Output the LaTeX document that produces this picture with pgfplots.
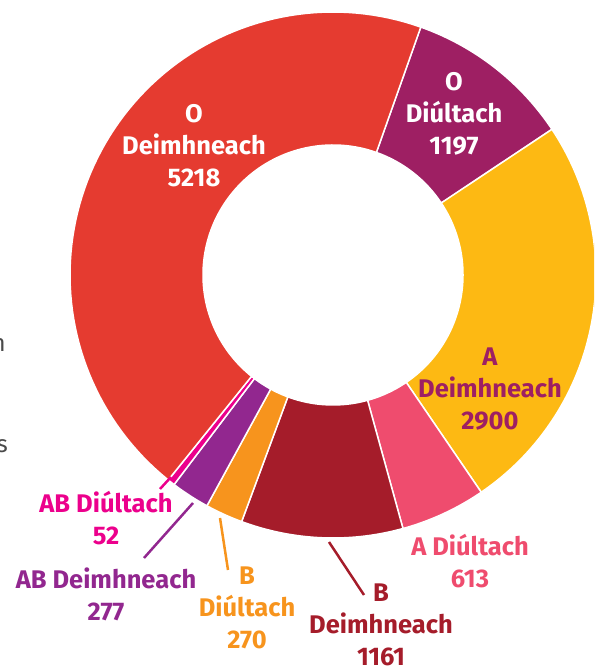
\documentclass[border=0pt]{standalone}
\usepackage{pgfplots}
\pgfplotsset{compat=1.18}
\usepackage{pgfplotstable}
\usepackage{fontspec}
\setmainfont{Fira Sans}
\definecolor{cODe}{HTML}{E53B30}
\definecolor{cODi}{HTML}{9E1F63}
\definecolor{cADe}{HTML}{FDB913}
\definecolor{cADi}{HTML}{EF4C6E}
\definecolor{cBDe}{HTML}{A51C2A}
\definecolor{cBDi}{HTML}{F7941D}
\definecolor{cABDe}{HTML}{92278F}
\definecolor{cABDi}{HTML}{EC008C}
\definecolor{fragtext}{HTML}{4A4A4A}
\pgfplotstableread{
label value color
ODiultach 1197 cODi
ADeimhneach 2900 cADe
ADiultach 613 cADi
BDeimhneach 1161 cBDe
BDiultach 270 cBDi
ABDeimhneach 277 cABDe
ABDiultach 52 cABDi
ODeimhneach 5218 cODe
}\bloodtable
\newcommand\lbl{\fontsize{25.5}{32}\selectfont\bfseries}
\begin{document}
\begin{tikzpicture}
\begin{axis}[x=1pt,y=1pt,xmin=0,xmax=594,ymin=0,ymax=668,hide axis]
\pgfmathsetmacro{\total}{0}
\pgfplotsforeachungrouped \i in {0,...,7}{%
  \pgfplotstablegetelem{\i}{value}\of\bloodtable
  \pgfmathsetmacro{\total}{\total+\pgfplotsretval}%
}
\def\cum{0}
\pgfplotsforeachungrouped \i in {0,...,7}{%
  \pgfplotstablegetelem{\i}{value}\of\bloodtable \let\val\pgfplotsretval
  \pgfplotstablegetelem{\i}{color}\of\bloodtable \let\col\pgfplotsretval
  \pgfmathsetmacro{\a}{70.5-\cum/\total*360}%
  \pgfmathsetmacro{\cumnew}{\cum+\val}%
  \pgfmathsetmacro{\b}{70.5-\cumnew/\total*360}%
  \pgfmathsetmacro{\ax}{333+130*cos(\a)}%
  \pgfmathsetmacro{\ay}{393+130*sin(\a)}%
  \edef\cmd{\noexpand\addplot[fill=\col,draw=white,line width=1.5pt,line join=round,domain=\b:\a,samples=90,variable=\noexpand\t] ({333+263*cos(\noexpand\t)},{393+263*sin(\noexpand\t)}) -- (axis cs:\ax,\ay) arc[start angle=\a,end angle=\b,radius=130pt] -- cycle;}%
  \cmd
  \let\cum\cumnew
}
% labels
\node[align=center,text=white,font=\lbl] at (axis cs:194,522) {O\\Deimhneach\\5218};
\node[align=center,text=white,font=\lbl] at (axis cs:454,554) {O\\Diúltach\\1197};
\node[align=center,text=cODi,font=\lbl] at (axis cs:490,279) {A\\Deimhneach\\2900};
\node[align=center,text=cADi,font=\lbl] at (axis cs:470,107) {A Diúltach\\613};
\node[align=center,text=cBDe,font=\lbl] at (axis cs:381,43) {B\\Deimhneach\\1161};
\node[align=center,text=cBDi,font=\lbl] at (axis cs:247,60) {B\\Diúltach\\270};
\node[align=center,text=cABDe,font=\lbl] at (axis cs:106,74) {AB Deimhneach\\277};
\node[align=center,text=cABDi,font=\lbl] at (axis cs:106,150) {AB Diúltach\\52};
% leader lines
\draw[cABDi,line width=2.5pt] (axis cs:171,191) -- (axis cs:160,179);
\draw[cABDe,line width=2.5pt] (axis cs:193,165) -- (axis cs:144,110);
\draw[cBDi,line width=2.5pt] (axis cs:220,150) -- (axis cs:228,98);
\draw[cBDe,line width=2.5pt] (axis cs:329,126) -- (axis cs:364,73);
% cut-off text fragments at the left edge
\node[anchor=base east,inner sep=0pt,text=fragtext,font=\fontsize{24}{28}\selectfont] at (axis cs:6,316) {n};
\node[anchor=base east,inner sep=0pt,text=fragtext,font=\fontsize{24}{28}\selectfont] at (axis cs:8,215) {s};
\end{axis}
\pgfresetboundingbox
\useasboundingbox (current axis.south west) rectangle (current axis.north east);
\end{tikzpicture}
\end{document}
